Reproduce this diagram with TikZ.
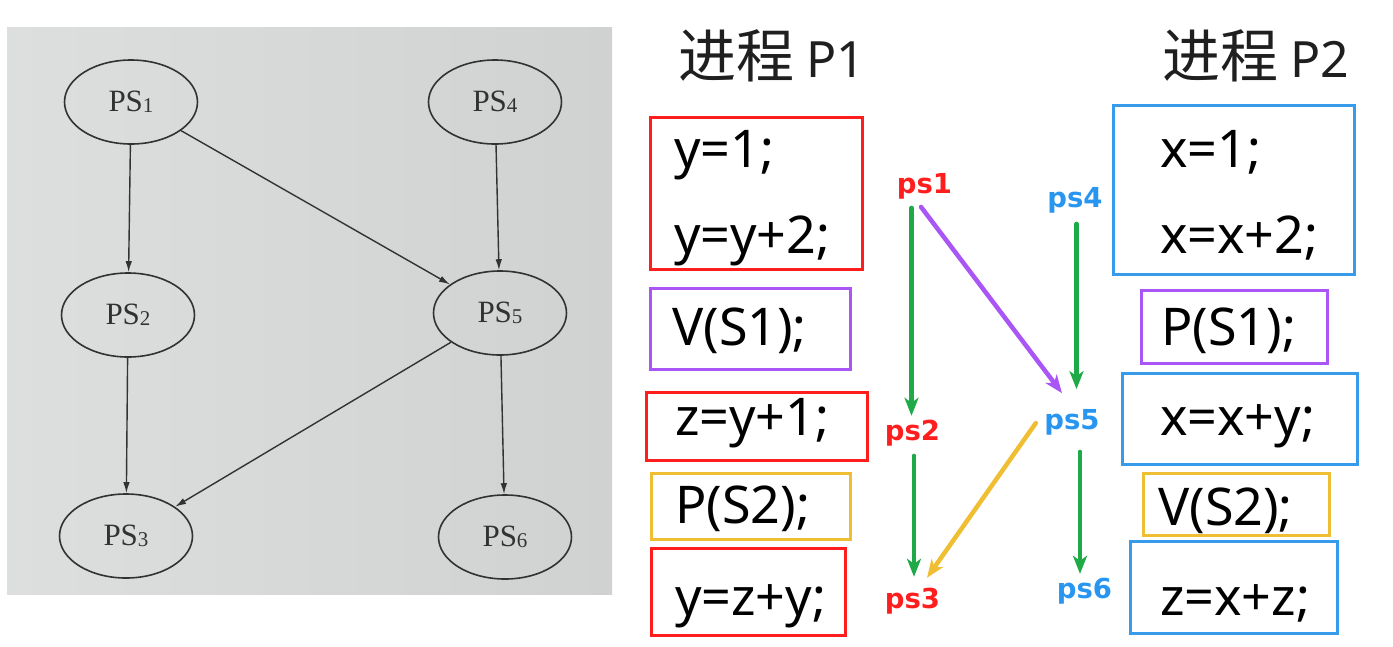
\documentclass[tikz,border=0pt]{standalone}
\usepackage{fontspec}
\setmainfont{Liberation Serif}
\newfontfamily\cjkfont{Noto Sans CJK SC}
\newfontfamily\codefont{Noto Sans}
\newfontfamily\lblfont{DejaVu Sans}
\newfontfamily\psfont{Liberation Serif}
\usetikzlibrary{arrows.meta,shapes.geometric}
\definecolor{photoL}{RGB}{220,223,221}
\definecolor{photoR}{RGB}{207,210,208}
\definecolor{inkgrey}{RGB}{50,50,50}
\definecolor{bred}{RGB}{255,30,30}
\definecolor{bpurple}{RGB}{170,85,245}
\definecolor{byellow}{RGB}{240,190,50}
\definecolor{bblue}{RGB}{55,155,235}
\definecolor{lblue}{RGB}{40,150,240}
\definecolor{agreen}{RGB}{30,170,70}
\begin{document}
\begin{tikzpicture}[x=1pt,y=-1pt,
  psnode/.style={ellipse,draw=inkgrey,line width=1.6pt,minimum width=133pt,minimum height=84pt,inner sep=0pt,
    font=\psfont\fontsize{31}{31}\selectfont,text=inkgrey},
  psedge/.style={draw=inkgrey,line width=1.4pt,-{Latex[length=11pt,width=6.5pt]}},
  codebox/.style={rectangle,draw=#1,line width=3pt,inner sep=0pt},
  code/.style={anchor=base west,inner sep=0pt,font=\codefont\fontsize{52}{52}\selectfont},
  title/.style={anchor=base west,inner sep=0pt,text=black!88},
  lbl/.style={anchor=base,inner sep=0pt,font=\lblfont\bfseries\fontsize{27.5}{27.5}\selectfont,text=#1},
  flow/.style={draw=#1,line width=4.5pt,line cap=round,-{Stealth[length=18pt,width=14pt,inset=5pt]}}
]
\useasboundingbox (0,0) rectangle (1393,646);
\fill[white] (0,0) rectangle (1393,646);
% ---------- photo of the textbook graph ----------
\shade[left color=photoL,right color=photoR] (7,27) rectangle (612,594);
\node[psnode] (PS1) at (131,102) {PS\raisebox{-1pt}{\fontsize{21}{21}\selectfont 1}};
\node[psnode] (PS4) at (495,102) {PS\raisebox{-1pt}{\fontsize{21}{21}\selectfont 4}};
\node[psnode] (PS2) at (128,315) {PS\raisebox{-1pt}{\fontsize{21}{21}\selectfont 2}};
\node[psnode] (PS5) at (500,313) {PS\raisebox{-1pt}{\fontsize{21}{21}\selectfont 5}};
\node[psnode] (PS3) at (126,536) {PS\raisebox{-1pt}{\fontsize{21}{21}\selectfont 3}};
\node[psnode] (PS6) at (505,537) {PS\raisebox{-1pt}{\fontsize{21}{21}\selectfont 6}};
\draw[psedge] (PS1) -- (PS2);
\draw[psedge] (PS1) -- (PS5);
\draw[psedge] (PS4) -- (PS5);
\draw[psedge] (PS2) -- (PS3);
\draw[psedge] (PS5) -- (PS3);
\draw[psedge] (PS5) -- (PS6);
% ---------- titles ----------
\node[title] (T1) at (678,77) {{\cjkfont\fontsize{58}{58}\selectfont 进程}\hspace{12pt}{\codefont\fontsize{50}{50}\selectfont P1}};
\node[title] (T2) at (1162,77) {{\cjkfont\fontsize{58}{58}\selectfont 进程}\hspace{12pt}{\codefont\fontsize{50}{50}\selectfont P2}};
% ---------- process P1 boxes ----------
\node[codebox=bred,minimum width=212pt,minimum height=152pt] (a1) at (756,193) {};
\node[codebox=bpurple,minimum width=200pt,minimum height=81pt] (a2) at (750,328.5) {};
\node[codebox=bred,minimum width=221pt,minimum height=68pt] (a3) at (756.5,426) {};
\node[codebox=byellow,minimum width=199pt,minimum height=66pt] (a4) at (750.5,506) {};
\node[codebox=bred,minimum width=194pt,minimum height=87pt] (a5) at (748,591.5) {};
\node[code] (c1) at (674,167) {y=1;};
\node[code] (c2) at (674,253) {y=y+2;};
\node[code] (c3) at (672,345) {V(S1);};
\node[code] (c4) at (675,435) {z=y+1;};
\node[code] (c5) at (675,523) {P(S2);};
\node[code] (c6) at (675,615) {y=z+y;};
% ---------- process P2 boxes ----------
\node[codebox=bblue,minimum width=241pt,minimum height=169pt] (b1) at (1234,189.5) {};
\node[codebox=bpurple,minimum width=186pt,minimum height=73pt] (b2) at (1234,326.5) {};
\node[codebox=bblue,minimum width=235pt,minimum height=91pt] (b3) at (1239.5,418.5) {};
\node[codebox=byellow,minimum width=186pt,minimum height=62pt] (b4) at (1236,504) {};
\node[codebox=bblue,minimum width=207pt,minimum height=92pt] (b5) at (1233.5,587) {};
\node[code] (d1) at (1160,167) {x=1;};
\node[code] (d2) at (1160,253) {x=x+2;};
\node[code] (d3) at (1161,345) {P(S1);};
\node[code] (d4) at (1160,435) {x=x+y;};
\node[code] (d5) at (1158,525) {V(S2);};
\node[code] (d6) at (1160,615) {z=x+z;};
% ---------- labels ----------
\node[lbl=bred] (ps1) at (924.5,193) {ps1};
\node[lbl=bred] (ps2) at (912.5,440) {ps2};
\node[lbl=bred] (ps3) at (912.5,608) {ps3};
\node[lbl=lblue] (ps4) at (1075,207) {ps4};
\node[lbl=lblue] (ps5) at (1072,429) {ps5};
\node[lbl=lblue] (ps6) at (1084.5,598) {ps6};
% ---------- precedence arrows ----------
\draw[flow=agreen] ([shift={(-13,9)}]ps1.south) -- ([shift={(-1,-3.6)}]ps2.north);
\draw[flow=agreen] ([shift={(1.5,10)}]ps2.south) -- ([shift={(1.5,-10.6)}]ps3.north);
\draw[flow=agreen] ([shift={(1.5,11)}]ps4.south) -- ([shift={(4.5,-19.6)}]ps5.north);
\draw[flow=agreen] ([shift={(8,17)}]ps5.south) -- ([shift={(-4.5,-3.6)}]ps6.north);
\draw[flow=bpurple] ([shift={(-3.5,8)}]ps1.south) -- ([shift={(-10,-15.6)}]ps5.north);
\draw[flow=byellow] ([shift={(-8.4,1.2)}]ps5.west) -- ([shift={(14.5,-9.6)}]ps3.north);
\end{tikzpicture}
\end{document}
